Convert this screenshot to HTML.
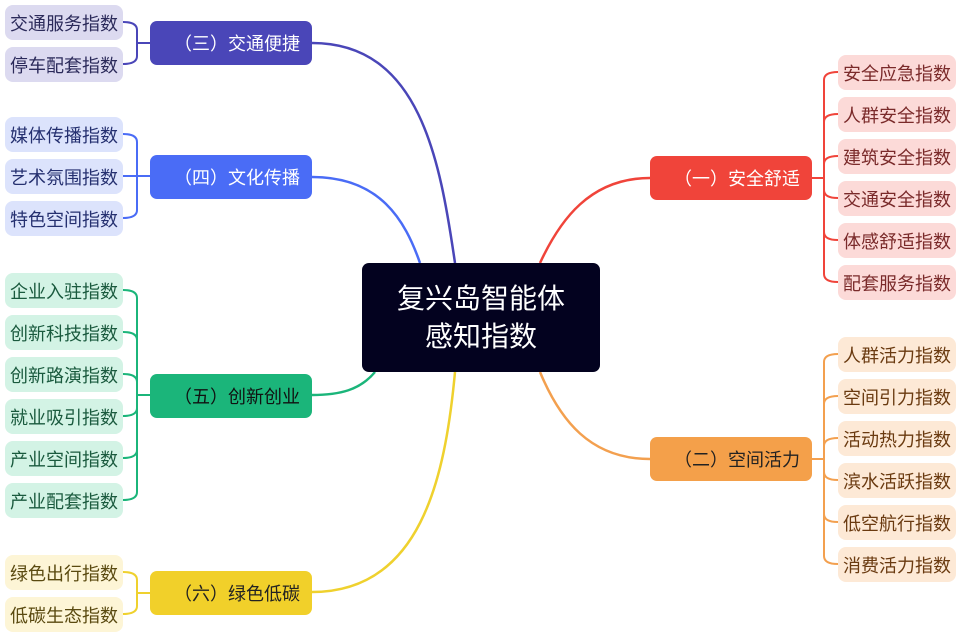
<!DOCTYPE html>
<html><head><meta charset="utf-8"><style>
body{margin:0;width:966px;height:637px;background:#fff;position:relative;overflow:hidden;font-family:"Liberation Sans","Noto Sans CJK SC",sans-serif}
.n{position:absolute;box-sizing:border-box;display:flex;align-items:center;justify-content:center;white-space:nowrap}
.l{width:118px;height:35px;border-radius:8px;font-size:18px}
.b{width:162px;height:44px;border-radius:7px;font-size:18px;padding-left:12px}
svg{position:absolute;left:0;top:0}
</style></head><body>
<svg width="966" height="637" fill="none" stroke-width="2.5">
<!-- main connectors -->
<path d="M455 263 C440 160 420 43 312 43" stroke="#4a46b8"/>
<path d="M420 263 C405 220 380 177 312 177" stroke="#4a6cf6"/>
<path d="M375 372 C360 390 340 395 312 395" stroke="#1bb57a"/>
<path d="M455 372 C445 480 420 592 312 592" stroke="#efd12e"/>
<path d="M540 263 C560 220 590 178 650 178" stroke="#f0443a"/>
<path d="M540 372 C560 420 590 459 650 459" stroke="#f3a04f"/>
<!-- brackets left -->
<g stroke="#4a46b8" stroke-width="2"><path d="M123 22 Q137 22 137 30 L137 56 Q137 64 123 64"/><path d="M137 43 H150"/></g>
<g stroke="#4a6cf6" stroke-width="2"><path d="M123 134 Q137 134 137 142 L137 210 Q137 218 123 218 M123 176 H150"/></g>
<g stroke="#1bb57a" stroke-width="2"><path d="M123 290 Q137 290 137 298 L137 492 Q137 500 123 500 M137 395 H150 M123 332 Q137 332 137 340 M123 374 Q137 374 137 382 M123 416 Q137 416 137 408 M123 458 Q137 458 137 450"/></g>
<g stroke="#efd12e" stroke-width="2"><path d="M123 572 Q137 572 137 580 L137 606 Q137 614 123 614 M137 593 H150"/></g>
<!-- brackets right -->
<g stroke="#f0443a" stroke-width="2"><path d="M838 72 Q824 72 824 80 L824 274 Q824 282 838 282 M812 178 H824 M838 114 Q824 114 824 122 M838 156 Q824 156 824 164 M838 198 Q824 198 824 190 M838 240 Q824 240 824 232"/></g>
<g stroke="#f3a04f" stroke-width="2"><path d="M838 354 Q824 354 824 362 L824 556 Q824 564 838 564 M812 459 H824 M838 396 Q824 396 824 404 M838 438 Q824 438 824 446 M838 480 Q824 480 824 472 M838 522 Q824 522 824 514"/></g>
</svg>

<div class="n" style="left:362px;top:263px;width:238px;height:109px;background:#03021f;border-radius:7px;color:#fff;font-size:28px;line-height:38px;text-align:center;flex-direction:column"><div>复兴岛智能体</div><div>感知指数</div></div>

<div class="n b" style="left:150px;top:21px;background:#4a46b8;color:#fff">（三）交通便捷</div>
<div class="n b" style="left:150px;top:155px;background:#4a6cf6;color:#fff">（四）文化传播</div>
<div class="n b" style="left:150px;top:374px;background:#1bb57a;color:#111">（五）创新创业</div>
<div class="n b" style="left:150px;top:571px;background:#f1d02a;color:#222">（六）绿色低碳</div>
<div class="n b" style="left:650px;top:156px;background:#f0443a;color:#fff">（一）安全舒适</div>
<div class="n b" style="left:650px;top:437px;background:#f4a04a;color:#222">（二）空间活力</div>

<div class="n l" style="left:5px;top:5px;background:#dcdaf0;color:#2b2a5a">交通服务指数</div>
<div class="n l" style="left:5px;top:47px;background:#dcdaf0;color:#2b2a5a">停车配套指数</div>

<div class="n l" style="left:5px;top:117px;background:#dce3fc;color:#253070">媒体传播指数</div>
<div class="n l" style="left:5px;top:159px;background:#dce3fc;color:#253070">艺术氛围指数</div>
<div class="n l" style="left:5px;top:201px;background:#dce3fc;color:#253070">特色空间指数</div>

<div class="n l" style="left:5px;top:273px;background:#d3f3e5;color:#1a5a3e">企业入驻指数</div>
<div class="n l" style="left:5px;top:315px;background:#d3f3e5;color:#1a5a3e">创新科技指数</div>
<div class="n l" style="left:5px;top:357px;background:#d3f3e5;color:#1a5a3e">创新路演指数</div>
<div class="n l" style="left:5px;top:399px;background:#d3f3e5;color:#1a5a3e">就业吸引指数</div>
<div class="n l" style="left:5px;top:441px;background:#d3f3e5;color:#1a5a3e">产业空间指数</div>
<div class="n l" style="left:5px;top:483px;background:#d3f3e5;color:#1a5a3e">产业配套指数</div>

<div class="n l" style="left:5px;top:555px;background:#fdf5d6;color:#5a4a10">绿色出行指数</div>
<div class="n l" style="left:5px;top:597px;background:#fdf5d6;color:#5a4a10">低碳生态指数</div>

<div class="n l" style="left:838px;top:55px;background:#fcdad8;color:#7a2a2a">安全应急指数</div>
<div class="n l" style="left:838px;top:97px;background:#fcdad8;color:#7a2a2a">人群安全指数</div>
<div class="n l" style="left:838px;top:139px;background:#fcdad8;color:#7a2a2a">建筑安全指数</div>
<div class="n l" style="left:838px;top:181px;background:#fcdad8;color:#7a2a2a">交通安全指数</div>
<div class="n l" style="left:838px;top:223px;background:#fcdad8;color:#7a2a2a">体感舒适指数</div>
<div class="n l" style="left:838px;top:265px;background:#fcdad8;color:#7a2a2a">配套服务指数</div>

<div class="n l" style="left:838px;top:337px;background:#fde9d6;color:#6a3a10">人群活力指数</div>
<div class="n l" style="left:838px;top:379px;background:#fde9d6;color:#6a3a10">空间引力指数</div>
<div class="n l" style="left:838px;top:421px;background:#fde9d6;color:#6a3a10">活动热力指数</div>
<div class="n l" style="left:838px;top:463px;background:#fde9d6;color:#6a3a10">滨水活跃指数</div>
<div class="n l" style="left:838px;top:505px;background:#fde9d6;color:#6a3a10">低空航行指数</div>
<div class="n l" style="left:838px;top:547px;background:#fde9d6;color:#6a3a10">消费活力指数</div>
</body></html>
